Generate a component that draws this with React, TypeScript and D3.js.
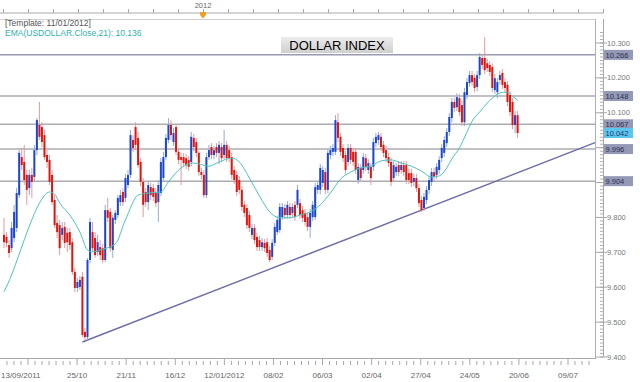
import React from "react";
import * as d3 from "d3";

// Daily candles (USDOLLAR)
const OPEN = [
9.750,9.744,9.721,9.712,9.741,9.770,9.864,9.973,9.959,9.922,9.884,9.922,9.916,9.993,10.065,10.059,10.036,9.979,9.965,9.922,
9.850,9.784,9.778,9.750,9.773,9.756,9.758,9.729,9.644,9.598,9.601,9.630,9.472,9.457,9.678,9.758,9.741,9.701,9.715,9.712,
9.678,9.821,9.816,9.707,9.793,9.807,9.844,9.873,9.856,9.893,9.922,10.022,10.059,10.028,9.959,9.902,9.873,9.844,9.887,9.884,
9.870,9.844,9.870,9.913,9.973,10.022,10.065,10.016,10.059,9.988,9.973,9.973,9.970,9.965,9.959,10.028,10.016,9.985,9.930,9.922,
9.864,9.973,10.002,9.979,10.002,9.985,10.002,9.979,10.008,9.993,9.973,9.936,9.922,9.907,9.879,9.836,9.827,9.807,9.750,9.770,
9.744,9.735,9.715,9.727,9.729,9.707,9.687,9.727,9.758,9.764,9.801,9.827,9.807,9.830,9.813,9.836,9.836,9.841,9.821,9.813,
9.801,9.773,9.801,9.801,9.879,9.879,9.899,9.930,9.879,9.979,9.988,9.988,10.073,10.031,9.999,9.979,9.959,9.999,9.988,9.988,
9.907,9.942,9.936,9.970,9.936,9.945,9.945,10.013,10.022,10.031,10.008,9.993,9.973,9.959,9.913,9.930,9.950,9.936,9.950,9.950,
9.927,9.927,9.902,9.913,9.884,9.850,9.827,9.850,9.879,9.902,9.930,9.922,9.936,9.970,9.985,10.013,10.045,10.085,10.131,10.116,
10.142,10.122,10.073,10.151,10.185,10.208,10.200,10.174,10.208,10.257,10.257,10.242,10.237,10.231,10.165,10.159,10.194,10.214,10.188,10.180,
10.151,10.131,10.065,10.093
];
const HIGH = [
9.799,9.758,9.735,9.787,9.836,9.885,9.993,9.999,10.008,9.936,9.936,9.942,10.008,10.085,10.131,10.073,10.051,9.993,9.979,9.936,
9.864,9.807,9.793,9.787,9.787,9.770,9.770,9.741,9.655,9.627,9.632,9.644,9.483,9.684,9.799,9.787,9.758,9.750,9.735,9.724,
9.836,9.856,9.827,9.807,9.821,9.864,9.879,9.884,9.925,9.936,10.051,10.036,10.073,10.045,9.970,9.913,9.884,9.902,9.899,9.896,
9.884,9.907,9.970,9.988,10.039,10.085,10.079,10.056,10.068,9.999,9.985,9.985,9.982,9.976,10.045,10.039,10.028,9.990,9.942,9.936,
9.985,10.008,10.013,10.005,10.013,10.019,10.013,10.051,10.019,10.005,9.985,9.947,9.933,9.919,9.890,9.847,9.838,9.819,9.781,9.781,
9.756,9.747,9.741,9.738,9.741,9.718,9.738,9.784,9.804,9.841,9.841,9.838,9.847,9.841,9.841,9.847,9.893,9.853,9.833,9.824,
9.813,9.824,9.847,9.899,9.905,9.953,9.947,9.942,9.996,10.005,10.010,10.093,10.099,10.042,10.010,9.990,10.010,10.010,9.999,9.999,
9.956,9.953,9.985,9.982,9.967,9.956,10.028,10.042,10.045,10.042,10.019,10.005,9.985,9.970,9.962,9.956,9.962,9.962,9.962,9.962,
9.939,9.939,9.925,9.925,9.896,9.861,9.870,9.890,9.919,9.942,9.942,9.956,9.976,10.010,10.033,10.056,10.099,10.142,10.142,10.156,
10.154,10.134,10.171,10.200,10.220,10.220,10.211,10.220,10.271,10.268,10.317,10.254,10.248,10.242,10.211,10.199,10.220,10.225,10.199,10.191,
10.162,10.142,10.105,10.105
];
const LOW = [
9.712,9.715,9.684,9.701,9.729,9.758,9.856,9.936,9.893,9.836,9.864,9.856,9.902,9.979,10.022,10.002,9.965,9.942,9.893,9.836,
9.770,9.741,9.692,9.735,9.712,9.701,9.707,9.635,9.586,9.586,9.592,9.457,9.449,9.449,9.669,9.701,9.684,9.689,9.678,9.669,
9.672,9.787,9.701,9.684,9.781,9.799,9.833,9.833,9.844,9.884,9.913,9.988,9.993,9.942,9.890,9.801,9.830,9.821,9.850,9.847,
9.830,9.787,9.861,9.905,9.965,10.013,10.022,10.005,9.979,9.953,9.893,9.945,9.939,9.933,9.947,9.990,9.973,9.919,9.910,9.856,
9.856,9.965,9.967,9.967,9.973,9.953,9.959,9.967,9.959,9.959,9.910,9.896,9.861,9.867,9.819,9.801,9.767,9.758,9.738,9.724,
9.704,9.704,9.704,9.701,9.687,9.672,9.678,9.718,9.750,9.756,9.793,9.796,9.796,9.796,9.801,9.790,9.827,9.796,9.787,9.776,
9.761,9.741,9.790,9.793,9.867,9.867,9.887,9.867,9.870,9.967,9.976,9.979,10.016,9.976,9.959,9.925,9.947,9.953,9.947,9.925,
9.896,9.902,9.925,9.933,9.925,9.893,9.933,10.002,10.008,9.990,9.973,9.959,9.945,9.890,9.902,9.919,9.919,9.925,9.919,9.896,
9.896,9.887,9.890,9.873,9.830,9.816,9.819,9.838,9.867,9.890,9.904,9.910,9.925,9.959,9.973,10.002,10.033,10.073,10.102,10.105,
10.091,10.062,10.062,10.139,10.174,10.177,10.159,10.162,10.197,10.225,10.211,10.217,10.205,10.159,10.154,10.142,10.182,10.168,10.159,10.119,
10.091,10.053,10.042,10.028
];
const CLOSE = [
9.729,9.727,9.698,9.770,9.816,9.870,9.985,9.950,9.907,9.879,9.922,9.902,9.993,10.079,10.031,10.016,9.973,9.959,9.902,9.844,
9.778,9.758,9.712,9.770,9.727,9.729,9.721,9.644,9.598,9.615,9.621,9.463,9.457,9.678,9.787,9.712,9.692,9.729,9.692,9.678,
9.821,9.799,9.712,9.799,9.813,9.856,9.864,9.844,9.913,9.922,10.036,9.999,10.008,9.950,9.902,9.836,9.844,9.893,9.864,9.859,
9.841,9.893,9.959,9.973,10.028,10.065,10.036,10.042,9.988,9.965,9.965,9.956,9.950,9.945,10.031,10.002,9.985,9.930,9.922,9.864,
9.973,9.993,9.979,9.993,9.985,10.008,9.970,10.008,9.970,9.970,9.922,9.907,9.873,9.879,9.830,9.813,9.778,9.770,9.770,9.735,
9.715,9.715,9.729,9.712,9.698,9.678,9.727,9.773,9.793,9.830,9.830,9.807,9.836,9.807,9.830,9.801,9.879,9.807,9.799,9.787,
9.773,9.813,9.836,9.887,9.893,9.942,9.936,9.879,9.985,9.993,9.999,10.079,10.028,9.988,9.970,9.936,9.999,9.965,9.959,9.936,
9.945,9.913,9.973,9.945,9.956,9.913,10.016,10.031,10.036,10.002,9.985,9.970,9.956,9.902,9.950,9.945,9.930,9.950,9.930,9.907,
9.907,9.899,9.913,9.884,9.841,9.821,9.859,9.879,9.907,9.930,9.916,9.945,9.965,9.999,10.022,10.045,10.088,10.131,10.114,10.145,
10.102,10.073,10.159,10.188,10.208,10.188,10.171,10.208,10.260,10.237,10.222,10.228,10.217,10.171,10.199,10.188,10.208,10.180,10.171,10.131,
10.102,10.065,10.093,10.042
];

// EMA(21) read at candle positions
const EMA_IDX = [0,3,6,10,14,18,20,22,26,30,33,35,38,44,48,53,57,62,65,70,75,81,85,90,93,97,101,105,109,113,117,121,125,129,133,137,141,145,149,153,157,161,165,169,172,175,177,180,183,185,188,191,193,196,199,201,203];
const EMA_VAL = [9.587,9.635,9.695,9.775,9.841,9.873,9.867,9.841,9.807,9.758,9.707,9.701,9.707,9.724,9.793,9.864,9.870,9.873,9.902,9.942,9.956,9.947,9.959,9.970,9.959,9.913,9.861,9.816,9.799,9.799,9.807,9.816,9.836,9.870,9.910,9.930,9.942,9.947,9.962,9.965,9.956,9.947,9.933,9.916,9.919,9.942,9.968,9.999,10.045,10.076,10.102,10.128,10.142,10.157,10.159,10.148,10.136];

const LEVELS = [10.266, 10.148, 10.067, 9.996, 9.904];
const LAST_PRICE = 10.042;
const EMA_LAST = 10.136;
const TREND_IDX = [32, 165];
const TREND_VAL = [9.446, 9.821];
const Y_TICKS = [9.4, 9.5, 9.6, 9.7, 9.8, 9.9, 10.0, 10.1, 10.2, 10.3];
const X_TICK_LABELS = ["13/09/2011","25/10","21/11","16/12","12/01/2012","08/02","06/03","02/04","27/04","24/05","20/06","09/07"];

const FONT = "'Liberation Sans', Arial, sans-serif";

export default function App() {
  const W = 640, H = 382;
  const plotR = 595, plotT = 19, plotB = 358, axisX = 603;
  const n = CLOSE.length;
  const x = d3.scaleLinear().domain([0, n - 1]).range([4, 517.6]);
  const y = d3.scaleLinear().domain([9.4, 10.3]).range([357, 43]);
  const xt = d3.scaleLinear().domain([0, X_TICK_LABELS.length - 1]).range([28, 568]);

  const ema = d3.line<number>()
    .x((_, i) => x(EMA_IDX[i]))
    .y((d) => y(d))
    .curve(d3.curveMonotoneX)(EMA_VAL) || "";

  const slope = (TREND_VAL[1] - TREND_VAL[0]) / (TREND_IDX[1] - TREND_IDX[0]);
  const endIdx = x.invert(plotR);
  const endVal = TREND_VAL[0] + slope * (endIdx - TREND_IDX[0]);
  const startIdx = TREND_IDX[0] - 1;
  const startVal = TREND_VAL[0] - slope;

  const minorX: number[] = [];
  const step = (xt(1) - xt(0)) / 7;
  for (let k = -3; k <= (X_TICK_LABELS.length - 1) * 7 + 3; k++) {
    if (k % 7 !== 0) minorX.push(xt(0) + k * step);
  }
  const minorY = d3.range(940, 1034).map((v) => v / 100);
  const topTicks = d3.range(3, 605, 25);
  const boxed = [...LEVELS, LAST_PRICE];
  const visibleTicks = Y_TICKS.filter((v) => boxed.every((b) => Math.abs(y(b) - y(v)) > 8));

  return (
    <svg width={W} height={H} style={{ position: "absolute", left: 0, top: 0, background: "#fff" }} fontFamily={FONT}>
      <defs>
        <linearGradient id="tbox" x1="0" y1="0" x2="0" y2="1">
          <stop offset="0" stopColor="#ececec" />
          <stop offset="1" stopColor="#cfcfcf" />
        </linearGradient>
      </defs>
      <rect x={0} y={0} width={W} height={H} fill="#fff" />

      {/* top time ruler */}
      <line x1={0} x2={axisX + 1} y1={13} y2={13} stroke="#a8a8a8" />
      {topTicks.map((t) => (
        <line key={t} x1={t + 0.5} x2={t + 0.5} y1={9} y2={13} stroke="#a8a8a8" />
      ))}
      <text x={203} y={7.5} fontSize={7.5} fill="#666" textAnchor="middle">2012</text>
      <polygon points="200,12 206,12 206,15 203,18.5 200,15" fill="#f0a020" />

      {/* frame */}
      <line x1={0} x2={plotR} y1={plotT + 0.5} y2={plotT + 0.5} stroke="#d0d0d0" />
      <line x1={plotR + 0.5} x2={plotR + 0.5} y1={plotT} y2={plotB} stroke="#b0b0b0" />

      {/* header text */}
      <text x={5} y={26} fontSize={8.5} fill="#555">[Template: 11/01/2012]</text>
      <text x={5} y={35.5} fontSize={8.5} fill="#2fb2ad">{`EMA(USDOLLAR.Close,21): ${EMA_LAST.toFixed(3)}`}</text>

      {/* horizontal levels */}
      {LEVELS.map((v) => (
        <line key={v} x1={0} x2={plotR} y1={y(v)} y2={y(v)} stroke={v === LEVELS[0] ? "#9a9ab4" : "#acacb2"} strokeWidth={1.5} />
      ))}

      {/* trend line */}
      <line x1={x(startIdx)} y1={y(startVal)} x2={plotR} y2={y(endVal)} stroke="#6e6ea6" strokeWidth={1.5} />

      {/* candles */}
      {CLOSE.map((c, i) => {
        const o = OPEN[i];
        const up = c >= o;
        const cx = x(i);
        const top = y(Math.max(o, c));
        const bot = y(Math.min(o, c));
        return (
          <g key={i}>
            <line x1={cx} x2={cx} y1={y(HIGH[i])} y2={y(LOW[i])} stroke={up ? "#90acd8" : "#e49a9a"} strokeWidth={1} />
            <rect x={cx - 1} y={top} width={2} height={Math.max(1, bot - top)} fill={up ? "#1b46d2" : "#e1150f"} />
          </g>
        );
      })}

      {/* EMA */}
      <path d={ema} fill="none" stroke="#4cc4bf" strokeWidth={1} />

      {/* title */}
      <rect x={281} y={37} width={112} height={16} fill="url(#tbox)" />
      <text x={337} y={50} fontSize={13} fill="#000" textAnchor="middle">DOLLAR INDEX</text>

      {/* bottom axis */}
      <line x1={0} x2={plotR + 1} y1={plotB + 0.5} y2={plotB + 0.5} stroke="#a8a8a8" />
      {minorX.filter((v) => v > 0 && v < plotR).map((v, i) => (
        <line key={i} x1={v} x2={v} y1={361} y2={365} stroke="#a8a8a8" />
      ))}
      {X_TICK_LABELS.map((lab, i) => (
        <g key={lab}>
          <line x1={xt(i)} x2={xt(i)} y1={plotB} y2={365} stroke="#a8a8a8" />
          <text x={i === 0 ? 1 : xt(i)} y={378} fontSize={8} fill="#666" textAnchor={i === 0 ? "start" : "middle"}>{lab}</text>
        </g>
      ))}

      {/* right price axis */}
      <line x1={axisX + 0.5} x2={axisX + 0.5} y1={plotT} y2={y(9.4)} stroke="#a8a8a8" />
      {minorY.map((v) => (
        <line key={v} x1={axisX - 3} x2={axisX} y1={y(v)} y2={y(v)} stroke="#b0b0b0" />
      ))}
      {Y_TICKS.map((v) => (
        <line key={"t" + v} x1={plotR} x2={axisX + 4} y1={y(v)} y2={y(v)} stroke="#a8a8a8" />
      ))}
      {visibleTicks.map((v) => (
        <text key={"l" + v} x={607} y={y(v) + 2.5} fontSize={7.5} fill="#777">{v.toFixed(3)}</text>
      ))}
      {LEVELS.map((v) => (
        <g key={"b" + v}>
          <rect x={604} y={y(v) - 5} width={29} height={10} fill="#9499b6" />
          <text x={605.5} y={y(v) + 3} fontSize={7.5} fill="#2b3050">{v.toFixed(3)}</text>
        </g>
      ))}
      <rect x={604} y={y(LAST_PRICE) - 5} width={29} height={10} fill="#5cc6f0" />
      <text x={605.5} y={y(LAST_PRICE) + 3} fontSize={7.5} fill="#1d3c6c">{LAST_PRICE.toFixed(3)}</text>
    </svg>
  );
}
